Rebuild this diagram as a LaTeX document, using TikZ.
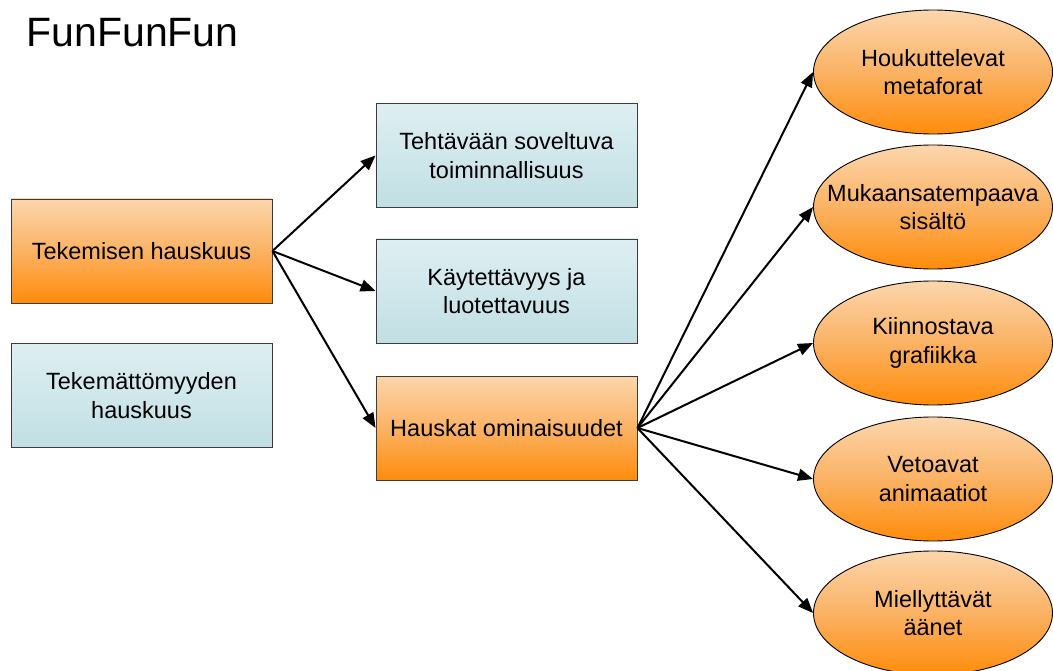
\documentclass[tikz,border=0pt]{standalone}
\usepackage{fontspec}
\setmainfont{Liberation Sans}
\usetikzlibrary{arrows.meta,shapes.geometric}
\definecolor{orT}{RGB}{252,214,172}
\definecolor{orM}{RGB}{251,178,100}
\definecolor{orB}{RGB}{255,140,10}
\definecolor{blT}{RGB}{222,239,242}
\definecolor{blB}{RGB}{193,223,228}
\definecolor{edge}{RGB}{60,60,60}
\tikzset{
  lbl/.style={font=\fontsize{23.5}{28.5}\selectfont, align=center, text=black},
  orangebox/.style={lbl, draw=edge, line width=0.9pt, rectangle, minimum width=261pt, minimum height=104pt, inner sep=0pt,
     top color=orT, bottom color=orB, middle color=orM},
  bluebox/.style={lbl, draw=edge, line width=0.9pt, rectangle, minimum width=261pt, minimum height=104pt, inner sep=0pt,
     top color=blT, bottom color=blB},
  oval/.style={lbl, draw=black, line width=0.9pt, ellipse, minimum width=239pt, minimum height=124pt, inner ysep=0pt, inner xsep=-35pt,
     top color=orT, bottom color=orB, middle color=orM},
  conn/.style={-{Triangle[length=15pt,width=12pt]}, line width=2pt, black}
}
\begin{document}
\begin{tikzpicture}[x=1pt,y=-1pt]
\useasboundingbox (0,0) rectangle (1053,671);
\node[anchor=west, font=\fontsize{41}{48}\selectfont] (title) at (23,33) {FunFunFun};
\node[orangebox] (tek) at (141.5,251) {Tekemisen hauskuus};
\node[bluebox] (tekm) at (141.5,395.5) {Tekemättömyyden\\hauskuus};
\node[bluebox] (teht) at (506.5,155.5) {Tehtävään soveltuva\\toiminnallisuus};
\node[bluebox] (kayt) at (506.5,291) {Käytettävyys ja\\luotettavuus};
\node[orangebox] (hask) at (506.5,428) {Hauskat ominaisuudet};
\node[oval] (e1) at (933,72) {Houkuttelevat\\metaforat};
\node[oval] (e2) at (933,207) {Mukaansatempaava\\sisältö};
\node[oval] (e3) at (933,343) {Kiinnostava\\grafiikka};
\node[oval] (e4) at (933,479) {Vetoavat\\animaatiot};
\node[oval] (e5) at (933,613) {Miellyttävät\\äänet};
\draw[conn] (tek.east) -- (teht.west);
\draw[conn] (tek.east) -- (kayt.west);
\draw[conn] (tek.east) -- (hask.west);
\foreach \e in {e1,e2,e3,e4,e5}{
  \draw[conn] (hask.east) -- (\e.west);
}
\end{tikzpicture}
\end{document}
